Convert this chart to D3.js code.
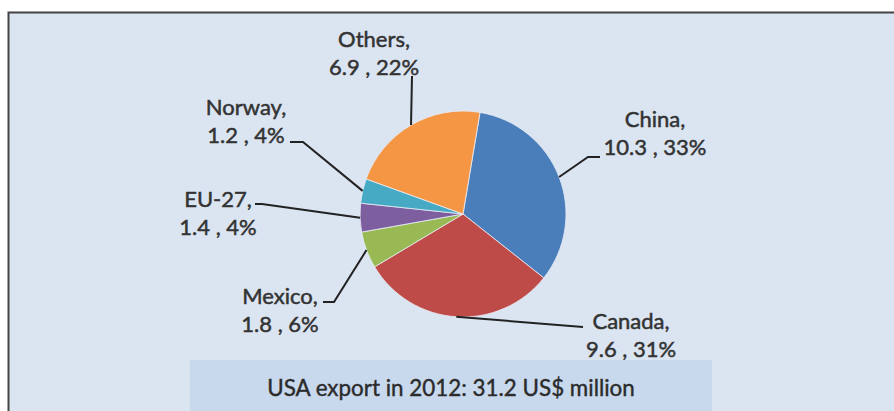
<!DOCTYPE html>
<html><head><meta charset="utf-8">
<script src="https://cdn.jsdelivr.net/npm/d3@7"></script>
<style>body{margin:0;background:#fff;}svg{display:block;}</style>
</head><body>
<script>
const categories = ["China", "Canada", "Mexico", "EU-27", "Norway", "Others"];
const values = [10.3, 9.6, 1.8, 1.4, 1.2, 6.9];
const percents = ["33%", "31%", "6%", "4%", "4%", "22%"];
const colors = ["#4a7ebb", "#be4b48", "#98b954", "#7d5fa0", "#46aac5", "#f59644"];
const title = "USA export in 2012: 31.2 US$ million";

const W = 894, H = 411;
const cx = 463, cy = 214, R = 103;
const startDeg = 9.5;
const FONT = "Lato, 'Open Sans', sans-serif";

// label layout: text centre x, first baseline, elbow point, line end
const labelLayout = [
  {tx: 655, ty: 127, elbow: [588, 157], end: [600, 157]},
  {tx: 631, ty: 329, elbow: null, end: [583, 327]},
  {tx: 280, ty: 304, elbow: [334, 302], end: [323, 302]},
  {tx: 218, ty: 207, elbow: [262, 204], end: [255, 204]},
  {tx: 246, ty: 115, elbow: [303, 142], end: [290, 142]},
  {tx: 374, ty: 47, elbow: null, end: [412, 76]}
];

const svg = d3.select("body").append("svg").attr("width", W).attr("height", H);

svg.append("rect").attr("x", 8).attr("y", 12).attr("width", W - 8).attr("height", H - 12).attr("fill", "#dbe5f1");
svg.append("path").attr("d", `M8.5,${H} L8.5,12.5 L${W},12.5`).attr("fill", "none").attr("stroke", "#444").attr("stroke-width", 2);

// title box
svg.append("rect").attr("x", 190).attr("y", 360).attr("width", 522).attr("height", 60).attr("fill", "#c9d9ed");
svg.append("text").attr("x", 451).attr("y", 396).attr("text-anchor", "middle")
  .attr("font-family", FONT).attr("font-size", 22.4).attr("fill", "#2b2b2b")
  .attr("stroke", "#2b2b2b").attr("stroke-width", 0.4)
  .text(title);

const pie = d3.pie().sort(null).value(d => d)
  .startAngle(startDeg * Math.PI / 180).endAngle(startDeg * Math.PI / 180 + 2 * Math.PI);
const arcs = pie(values);
const arc = d3.arc().innerRadius(0).outerRadius(R);

const g = svg.append("g").attr("transform", `translate(${cx},${cy})`);
g.selectAll("path").data(arcs).join("path")
  .attr("d", arc).attr("fill", (d, i) => colors[i])
  .attr("stroke", "#e8eef6").attr("stroke-width", 0.8);

// leader lines and labels
arcs.forEach((a, i) => {
  const m = (a.startAngle + a.endAngle) / 2;
  const px = cx + R * Math.sin(m), py = cy - R * Math.cos(m);
  const L = labelLayout[i];
  const pts = [[px, py]];
  if (L.elbow) pts.push(L.elbow);
  pts.push(L.end);
  svg.append("path").attr("d", d3.line()(pts)).attr("fill", "none")
    .attr("stroke", "#222").attr("stroke-width", 2);
  const t = svg.append("text").attr("x", L.tx).attr("y", L.ty).attr("text-anchor", "middle")
    .attr("font-family", FONT).attr("font-size", 22).attr("fill", "#333")
    .attr("stroke", "#333").attr("stroke-width", 0.5);
  t.append("tspan").attr("x", L.tx).text(categories[i] + ",");
  t.append("tspan").attr("x", L.tx).attr("dy", 28).text(values[i].toFixed(1) + " , " + percents[i]);
});
</script>
</body></html>
